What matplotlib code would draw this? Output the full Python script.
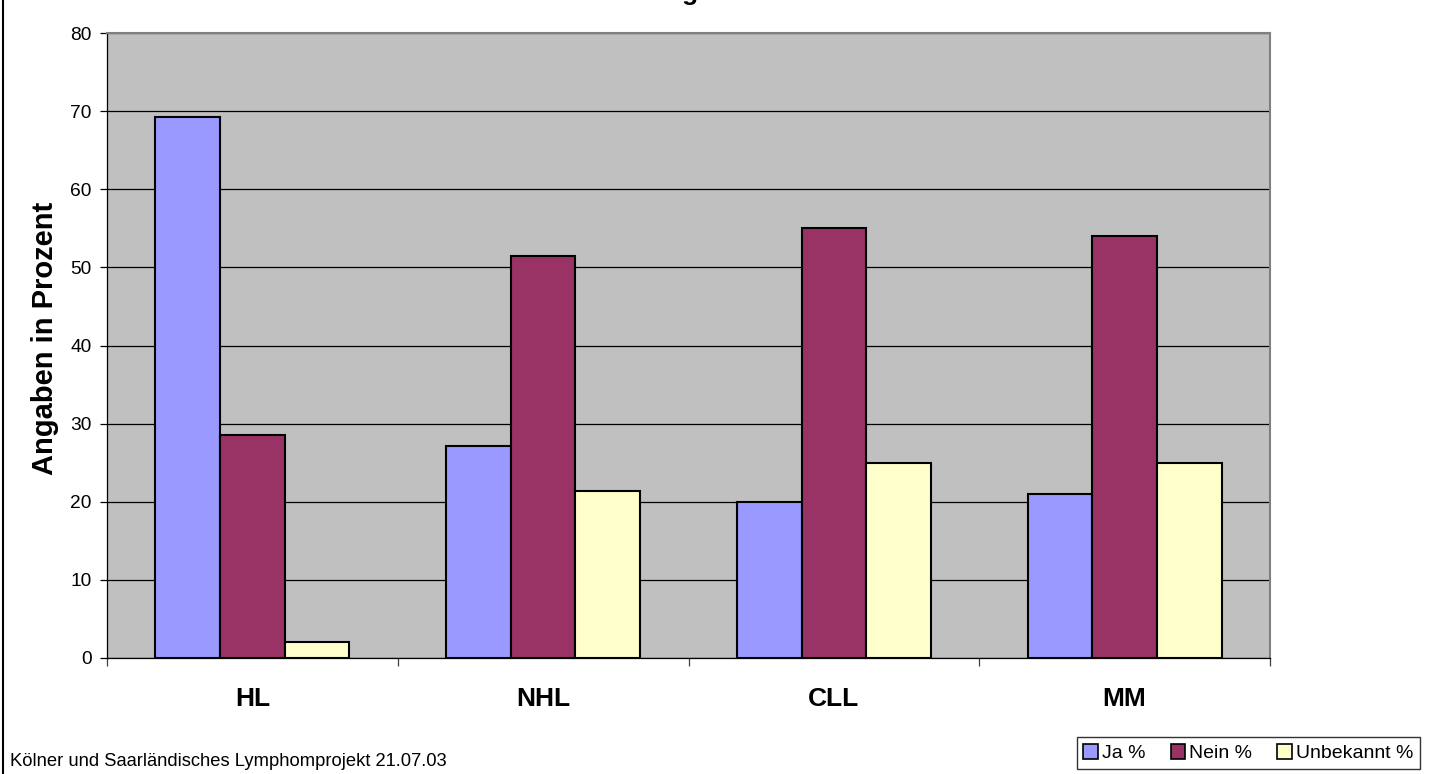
import numpy as np
import matplotlib.pyplot as plt
from matplotlib.patches import Patch
from matplotlib.lines import Line2D

plt.rcParams['font.family'] = ['Liberation Sans', 'DejaVu Sans']

# data
categories = ['HL', 'NHL', 'CLL', 'MM']
series_names = ['Ja %', 'Nein %', 'Unbekannt %']
ja = [69.3, 27.1, 20.0, 21.0]
nein = [28.5, 51.5, 55.0, 54.0]
unbekannt = [2.1, 21.4, 25.0, 25.0]
series_colors = ['#9999FF', '#993366', '#FFFFCC']

fig = plt.figure(figsize=(14.31, 7.74), dpi=100)
ax = fig.add_axes([107 / 1431, 1 - 658 / 774, 1163 / 1431, 625 / 774])
ax.set_facecolor('#C0C0C0')

# bars
x = np.arange(len(categories))
width = 0.2222
for i, (vals, color) in enumerate(zip([ja, nein, unbekannt], series_colors)):
    ax.bar(x + (i - 1) * width, vals, width, color=color, edgecolor='black',
           linewidth=1.5, zorder=3)

ax.set_xlim(-0.5, len(categories) - 0.5)
ax.set_ylim(0, 80)

# grid
ax.set_yticks(np.arange(0, 81, 10))
ax.yaxis.grid(True, color='black', linewidth=0.9, zorder=1)
ax.set_axisbelow(True)
ax.tick_params(axis='y', direction='out', length=5, width=0.9, pad=6,
               labelsize=13.8, color='black')

# category labels between boundary ticks
ax.set_xticks(np.arange(-0.5, len(categories), 1))
ax.set_xticklabels([])
ax.set_xticks(x, minor=True)
ax.set_xticklabels(categories, minor=True, fontsize=19, fontweight='bold')
ax.tick_params(axis='x', which='major', direction='out', length=6, width=0.9,
               color='#404040')
ax.tick_params(axis='x', which='minor', length=0, pad=21)

# borders
for side in ['top', 'right']:
    ax.spines[side].set_color('#808080')
    ax.spines[side].set_linewidth(1.5)
for side in ['left', 'bottom']:
    ax.spines[side].set_color('black')
    ax.spines[side].set_linewidth(0.9)

ax.set_ylabel('Angaben in Prozent', fontsize=21, fontweight='bold')
ax.yaxis.set_label_coords(-0.041, 0.511)

# title cut off at top of the image, only a descender shows
fig.text(690 / 1431, 1.0, 'g', ha='center', va='baseline', fontsize=19,
         fontweight='bold')

# outer frame on the left
fig.add_artist(Line2D([3 / 1431, 3 / 1431], [0, 1], transform=fig.transFigure,
                      color='black', linewidth=1.5))

fig.text(10 / 1431, 1 - 762 / 774, 'Kölner und Saarländisches Lymphomprojekt 21.07.03',
         ha='left', va='center', fontsize=13.2)

handles = [Patch(facecolor=c, edgecolor='black', linewidth=1.2) for c in series_colors]
leg = fig.legend(handles, series_names, loc='lower right', ncol=3,
                 bbox_to_anchor=(1420 / 1431, 1 - 769 / 774), fontsize=14,
                 frameon=True, fancybox=False, edgecolor='black',
                 handlelength=0.75, handleheight=0.75, handletextpad=0.2,
                 columnspacing=1.3, borderpad=0.35, borderaxespad=0)
leg.get_frame().set_linewidth(1.0)

fig.savefig('out.png', dpi=100)
